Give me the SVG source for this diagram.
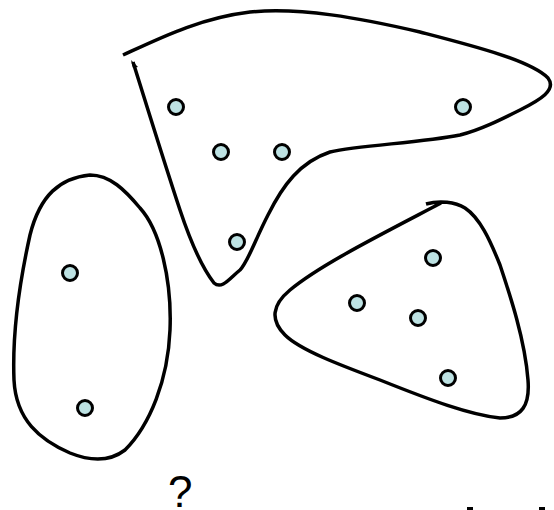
<svg xmlns="http://www.w3.org/2000/svg" width="554" height="510" viewBox="0 0 554 510">
<style>
.blob{fill:none;stroke:#000;stroke-width:3.5;stroke-linecap:butt;stroke-linejoin:round}
.dot{fill:#bde2e3;stroke:#000;stroke-width:3}
.q{font-family:"Liberation Sans",Arial,sans-serif;font-size:44px;fill:#000}
</style>
<rect width="554" height="510" fill="#fff"/>
<g id="cluster-top">
<path class="blob" d="M123,55 C160,38 200,18 250,12 C300,7 360,18 420,32 C470,45 530,60 548,78 C557,90 540,100 520,110 C500,120 480,130 460,135 C420,143 360,145 330,152 C300,162 283,185 268,215 C255,240 248,262 240,270 C230,278 222,290 214,283 C200,265 190,240 180,210 C165,165 145,100 133,62"/>
<polygon points="131,60 138,67 133,68" fill="#000"/>
<circle class="dot" cx="176" cy="107" r="7.5"/>
<circle class="dot" cx="221" cy="152" r="7.5"/>
<circle class="dot" cx="282" cy="152" r="7.5"/>
<circle class="dot" cx="463" cy="107" r="7.5"/>
<circle class="dot" cx="237" cy="242" r="7.5"/>
</g>
<g id="cluster-left">
<path class="blob" d="M90,175 C60,178 40,195 30,235 C20,280 12,330 14,380 C16,420 40,440 70,453 C95,463 112,460 125,450 C150,425 168,380 170,330 C172,280 160,230 140,208 C125,190 110,175 90,175 Z"/>
<circle class="dot" cx="70" cy="273" r="7.5"/>
<circle class="dot" cx="85" cy="408" r="7.5"/>
</g>
<g id="cluster-right">
<path class="blob" d="M426,204 C440,200 455,202 465,208 C480,218 490,240 500,265 C510,295 525,340 528,380 C530,405 522,418 500,418 C470,415 430,400 380,380 C340,365 300,350 285,335 C270,320 272,305 290,290 C320,265 380,235 441,203"/>
<circle class="dot" cx="433" cy="258" r="7.5"/>
<circle class="dot" cx="357" cy="303" r="7.5"/>
<circle class="dot" cx="418" cy="318" r="7.5"/>
<circle class="dot" cx="448" cy="378" r="7.5"/>
</g>
<g id="connectors"></g>
<text class="q" x="168" y="507">?</text>
<rect x="467" y="507" width="6" height="3" fill="#000"/>
<rect x="539" y="507" width="6" height="3" fill="#000"/>
</svg>
